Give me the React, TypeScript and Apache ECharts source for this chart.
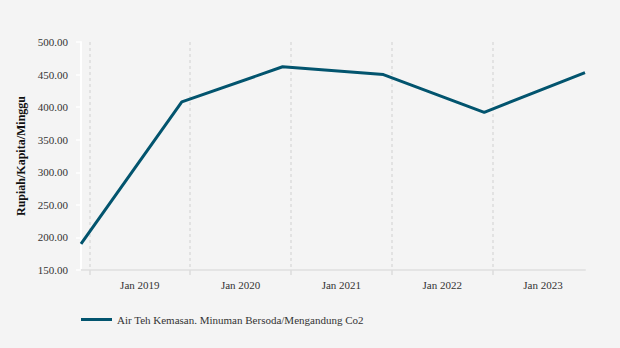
import React, { useEffect, useRef } from "react";
import * as echarts from "echarts";

const years = [2018, 2019, 2020, 2021, 2022, 2023];
const values = [190, 408, 462, 450, 392, 453];
const tickLabels = ["Jan 2019", "Jan 2020", "Jan 2021", "Jan 2022", "Jan 2023"];
const seriesName = "Air Teh Kemasan. Minuman Bersoda/Mengandung Co2";
const yAxisName = "Rupiah/Kapita/Minggu";

const pad = (m: number) => (m < 10 ? "0" + m : "" + m);

// monthly categories from Dec of first year to Dec of last year
const months: string[] = [`${years[0]}-12`];
for (let y = years[0] + 1; y <= years[years.length - 1]; y++) {
  for (let m = 1; m <= 12; m++) months.push(`${y}-${pad(m)}`);
}

const FONT = "Liberation Serif";

export default function App() {
  const ref = useRef<HTMLDivElement>(null);
  useEffect(() => {
    if (!ref.current) return;
    const chart = echarts.init(ref.current, null, { renderer: "svg" });
    chart.setOption({
      animation: false,
      backgroundColor: "#f4f4f4",
      textStyle: { fontFamily: FONT },
      grid: { left: 81, right: 35, top: 42, bottom: 78 },
      legend: {
        left: 81,
        top: 314,
        padding: 0,
        icon: "rect",
        itemWidth: 31,
        itemHeight: 3,
        itemGap: 10,
        textStyle: { fontFamily: FONT, fontSize: 11, color: "#333" },
        data: [seriesName],
      },
      xAxis: {
        type: "category",
        boundaryGap: false,
        data: months,
        axisLine: { show: true, lineStyle: { color: "#e4e4e4", width: 2 } },
        axisTick: {
          show: true,
          length: 5,
          interval: (_i: number, v: string) => v.endsWith("-01"),
          lineStyle: { color: "#dcdcdc", width: 1.5 },
        },
        splitLine: {
          show: true,
          interval: (_i: number, v: string) => v.endsWith("-01"),
          lineStyle: { color: "#dcdcdc", width: 1.5, type: [3, 3] },
        },
        axisLabel: {
          interval: (_i: number, v: string) => v.endsWith("-07"),
          formatter: (v: string) => tickLabels.find((t) => t.endsWith(v.slice(0, 4))) || "",
          fontFamily: FONT,
          fontSize: 11,
          color: "#333",
          margin: 9,
        },
      },
      yAxis: {
        type: "value",
        min: 150,
        max: 500,
        interval: 50,
        name: yAxisName,
        nameLocation: "middle",
        nameGap: 51,
        nameTextStyle: { fontFamily: FONT, fontSize: 12, fontWeight: "bold", color: "#111" },
        axisLine: { show: true, lineStyle: { color: "#ffffff", width: 2 } },
        axisTick: { show: true, length: 5, lineStyle: { color: "#ffffff", width: 1.5 } },
        splitLine: { show: false },
        axisLabel: {
          formatter: (v: number) => v.toFixed(2),
          fontFamily: FONT,
          fontSize: 11,
          color: "#333",
          margin: 13,
        },
      },
      series: [
        {
          name: seriesName,
          type: "line",
          data: years.map((y, i) => [`${y}-12`, values[i]]),
          showSymbol: false,
          symbol: "none",
          lineStyle: { color: "#02546e", width: 3 },
          itemStyle: { color: "#02546e" },
        },
      ],
    });
    return () => chart.dispose();
  }, []);
  return (
    <div
      ref={ref}
      style={{ position: "fixed", left: 0, top: 0, width: 620, height: 348, background: "#f4f4f4" }}
    />
  );
}
